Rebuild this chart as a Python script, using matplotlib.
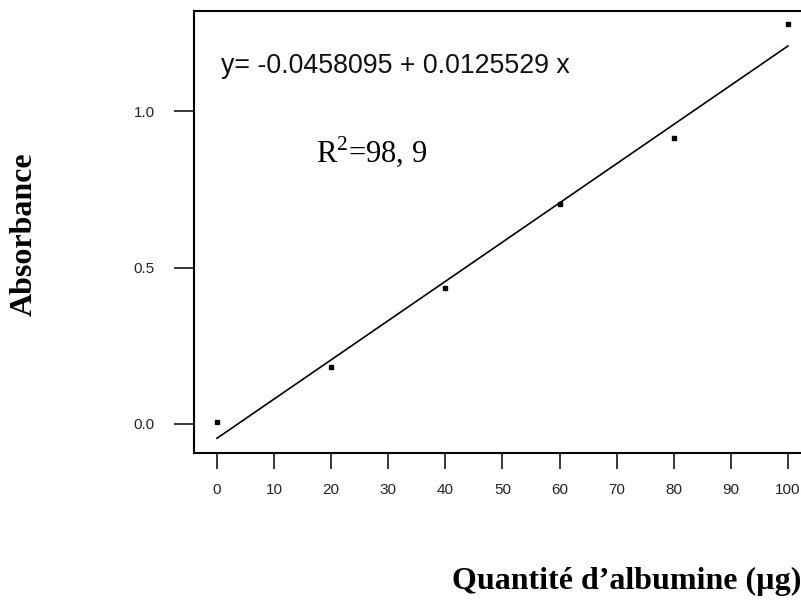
import matplotlib
matplotlib.use("Agg")
import numpy as np
import matplotlib.pyplot as plt

# calibration data
quantite = [0, 20, 40, 60, 80, 100]
absorbance = [0.005, 0.183, 0.435, 0.705, 0.915, 1.28]

# regression coefficients shown on the chart
intercept = -0.0458095
slope = 0.0125529

x_ticks = [0, 10, 20, 30, 40, 50, 60, 70, 80, 90, 100]
y_ticks = [0.0, 0.5, 1.0]

sans = ["Liberation Sans", "DejaVu Sans"]
serif = ["Liberation Serif", "DejaVu Serif"]

plt.rcParams["mathtext.fontset"] = "custom"
plt.rcParams["mathtext.rm"] = "Liberation Serif"

fig = plt.figure(figsize=(8.01, 6.01), dpi=100)
ax = fig.add_axes([194 / 801, 148 / 601, 607 / 801, 442.3 / 601])

x_fit = np.array([quantite[0], quantite[-1]])
y_fit = intercept + slope * x_fit
ax.plot(x_fit, y_fit, color="black", lw=1.2)
ax.plot(quantite, absorbance, "s", color="black", markersize=3.5)

ax.set_xlim(-4.03, 102.3)
ax.set_ylim(-0.093, 1.3226)
ax.set_xticks(x_ticks)
ax.set_yticks(y_ticks)
ax.set_xticklabels([str(t) for t in x_ticks], family=sans, fontsize=11, color="#222233")
ax.set_yticklabels([f"{t:.1f}" for t in y_ticks], family=sans, fontsize=11, color="#222233")
ax.tick_params(axis="x", length=11.5, width=1.1, pad=10)
ax.tick_params(axis="y", length=14.4, width=1.1, pad=14)
for side in ["left", "top", "bottom"]:
    ax.spines[side].set_linewidth(1.5)
ax.spines["right"].set_visible(False)

fig.text(221 / 801, (601 - 73) / 601, "y= -0.0458095 + 0.0125529 x",
         family=sans, fontsize=19.3, ha="left", va="baseline", color="#111111")
fig.text(316 / 801, (601 - 162) / 601, r"R$^{2}$=98, 9",
         family=serif, fontsize=22, ha="left", va="baseline")

fig.text(627 / 801, (601 - 581) / 601, "Quantité d\u2019albumine (µg)",
         family=serif, fontweight="bold", fontsize=23, ha="center", va="center")
fig.text(24 / 801, (601 - 234) / 601, "Absorbance", rotation=90,
         family=serif, fontweight="bold", fontsize=23, ha="center", va="center")

fig.savefig("out.png", dpi=100)
